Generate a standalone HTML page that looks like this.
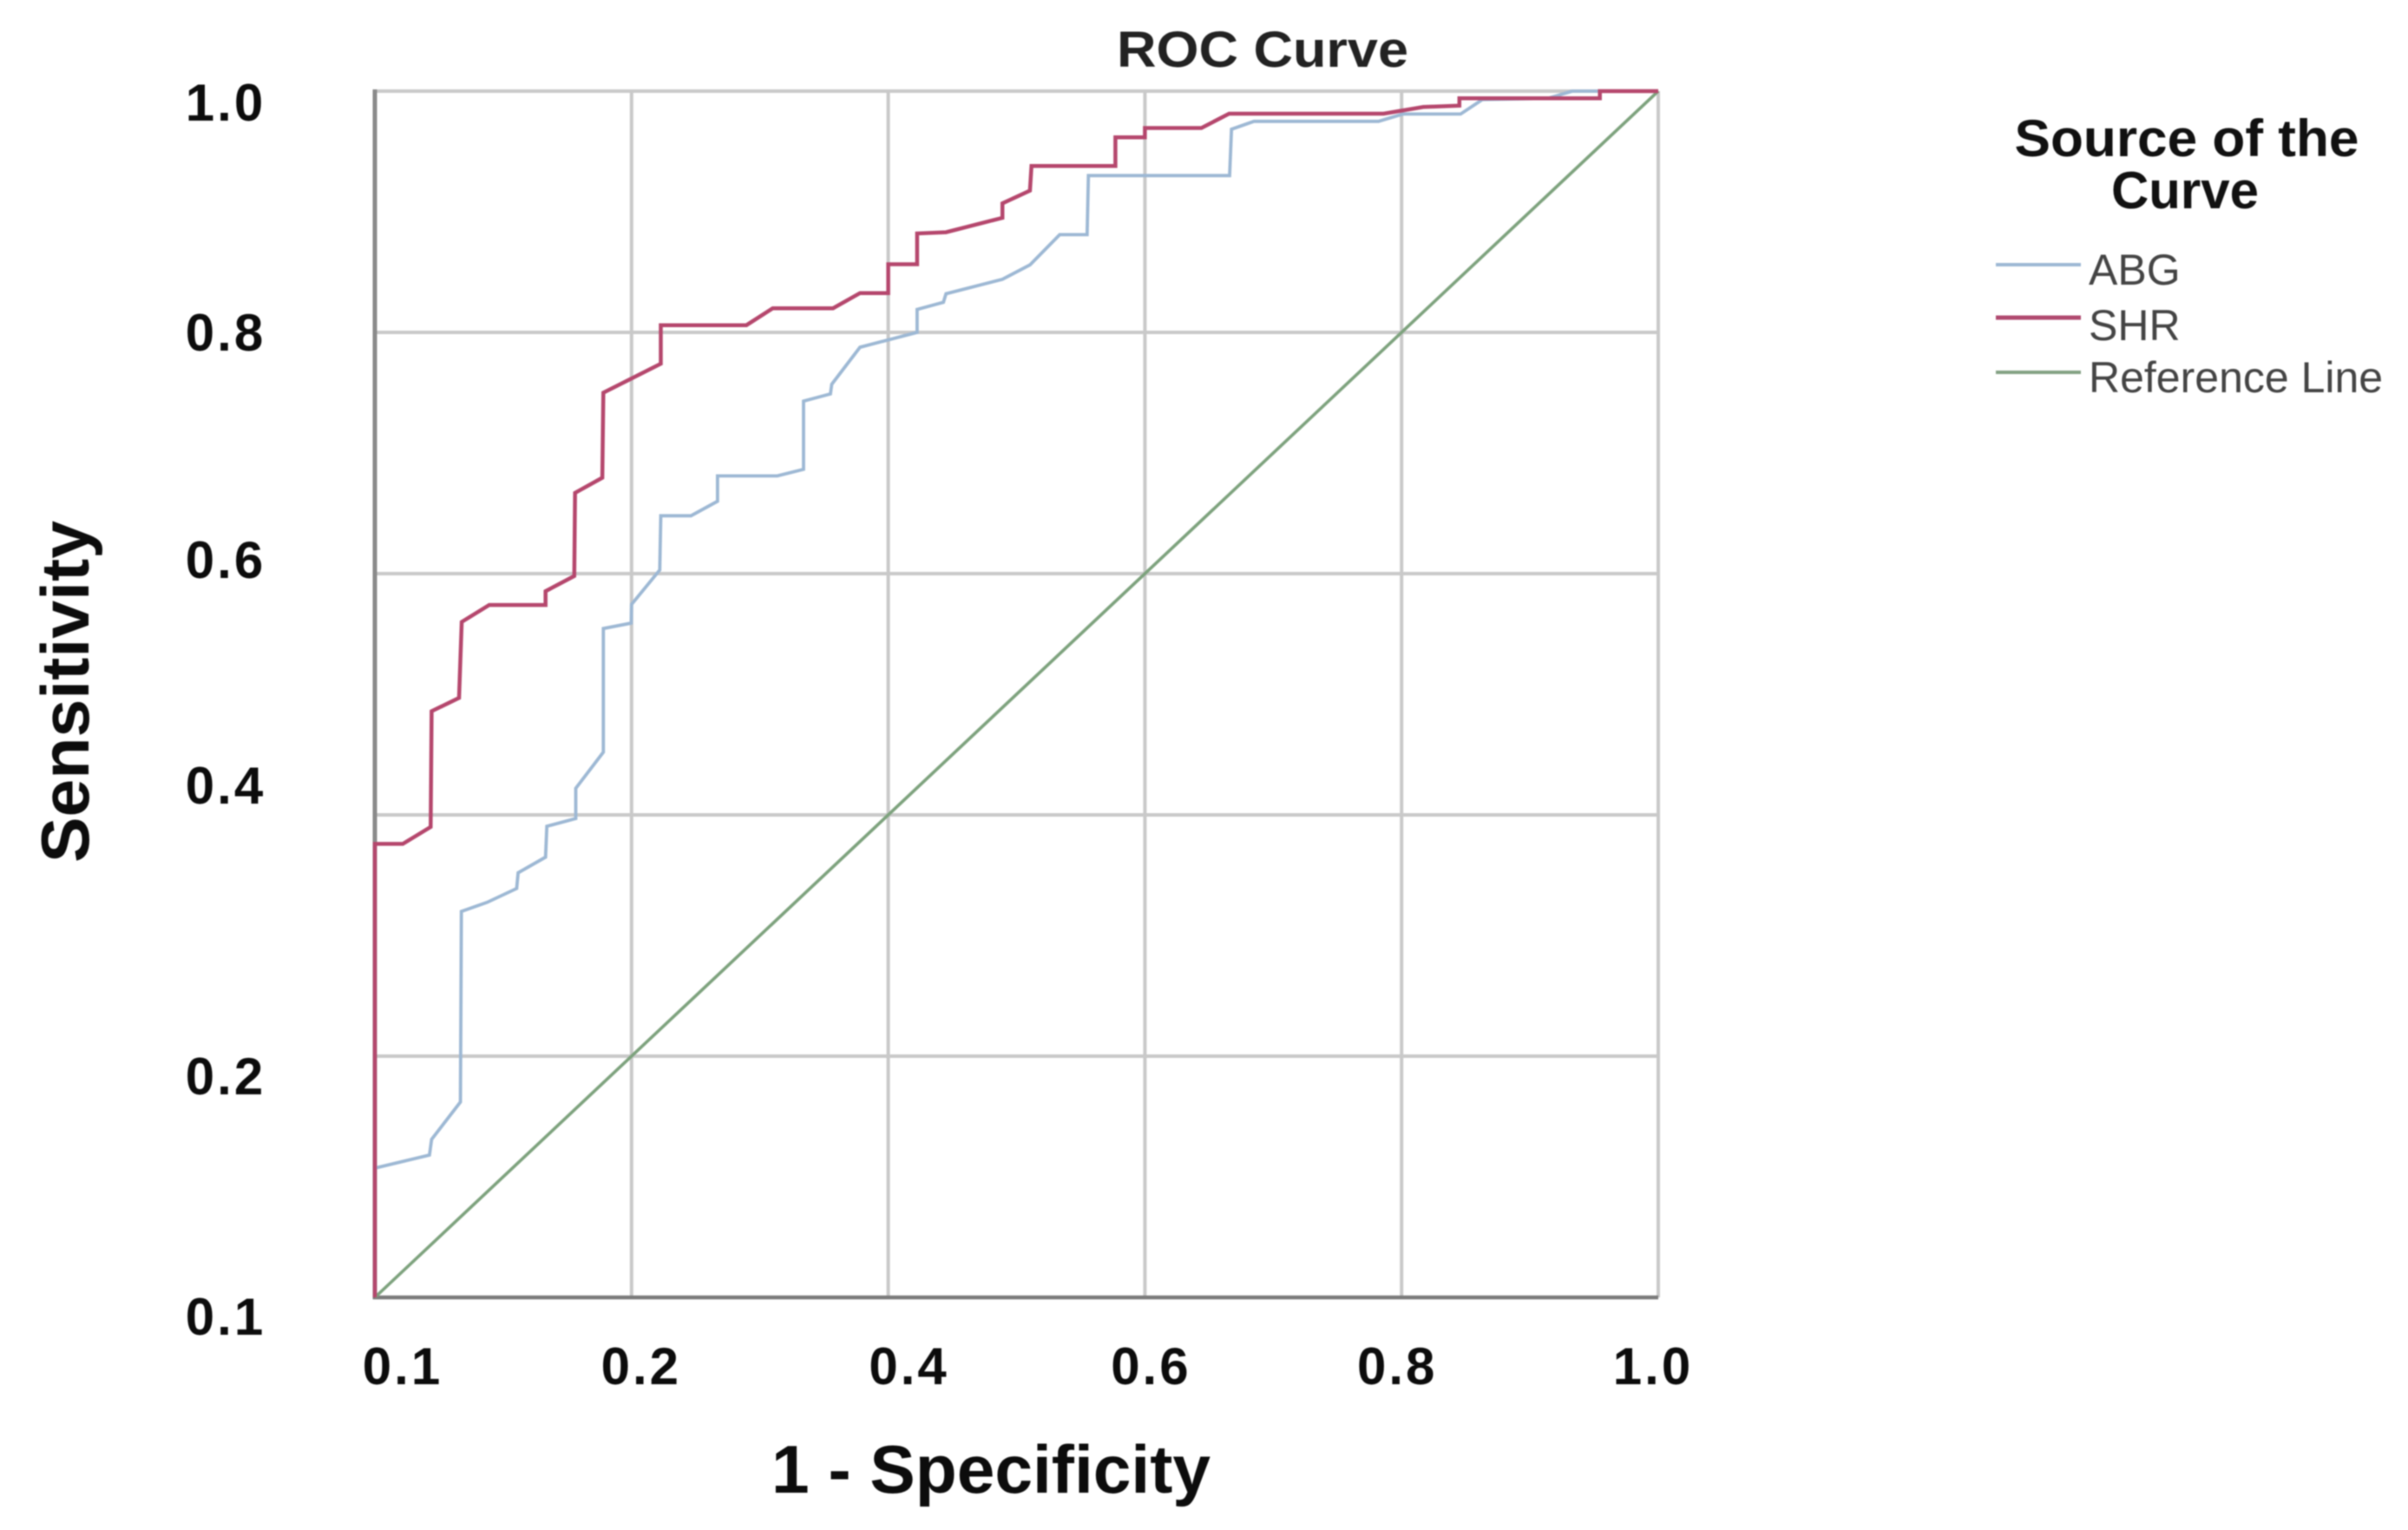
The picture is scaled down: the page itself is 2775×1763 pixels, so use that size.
<!DOCTYPE html>
<html lang="en">
<head>
<meta charset="utf-8">
<title>ROC Curve</title>
<style>
  html, body { margin: 0; padding: 0; background: #ffffff; }
  #chart { display: block; width: 2775px; height: 1763px; filter: blur(0.7px); }
  text { font-family: "Liberation Sans", sans-serif; }
  .tick { font-size: 60px; font-weight: 700; fill: #0c0c0c; letter-spacing: 3px; text-anchor: middle; }
  .axis-title { font-size: 78px; font-weight: 700; fill: #0c0c0c; }
  .legend-title { font-size: 60px; font-weight: 700; fill: #111111; text-anchor: middle; }
  .legend-label { font-size: 50px; fill: #444444; }
</style>
</head>
<body>
<svg id="chart" xmlns="http://www.w3.org/2000/svg" width="2775" height="1763" viewBox="0 0 2775 1763">
  <rect x="0" y="0" width="2775" height="1763" fill="#ffffff"></rect>
  <g id="grid"></g>
  <g id="axes"></g>
  <g id="series"></g>
  <g id="ticks"></g>

  <text x="1287" y="77" font-size="58" font-weight="700" fill="#222222" textLength="336" lengthAdjust="spacingAndGlyphs">ROC Curve</text>
  <text class="axis-title" x="889" y="1720" textLength="506" lengthAdjust="spacingAndGlyphs">1 - Specificity</text>
  <text class="axis-title" transform="translate(102 994) rotate(-90)" textLength="394" lengthAdjust="spacingAndGlyphs">Sensitivity</text>

  <g>
    <text class="legend-title" x="2520" y="180" textLength="397" lengthAdjust="spacingAndGlyphs">Source of the</text>
    <text class="legend-title" x="2518" y="240">Curve</text>
    <g>
      <line x1="2300" y1="305" x2="2398" y2="305" stroke="#9db8d4" stroke-width="4"></line>
      <text class="legend-label" x="2407" y="328">ABG</text>
    </g>
    <g>
      <line x1="2300" y1="366" x2="2398" y2="366" stroke="#b04a70" stroke-width="5"></line>
      <text class="legend-label" x="2407" y="392">SHR</text>
    </g>
    <g>
      <line x1="2300" y1="429" x2="2398" y2="429" stroke="#84a284" stroke-width="4"></line>
      <text class="legend-label" x="2407" y="452">Reference Line</text>
    </g>
  </g>
</svg>
<script>
const xTickValues = [0, 0.2, 0.4, 0.6, 0.8, 1];
const xTickLabels = ["0.1", "0.2", "0.4", "0.6", "0.8", "1.0"];
const yTickValues = [1, 0.8, 0.6, 0.4, 0.2, 0];
const yTickLabels = ["1.0", "0.8", "0.6", "0.4", "0.2", "0.1"];

const abgFpr = [0, 0, 0.0425, 0.0442, 0.0667, 0.0674, 0.0874, 0.1105, 0.1116, 0.133, 0.134, 0.1565, 0.1565, 0.178, 0.178, 0.1997, 0.2, 0.222, 0.2228, 0.2463, 0.267, 0.267, 0.3136, 0.334, 0.334, 0.355, 0.356, 0.378, 0.4225, 0.4225, 0.443, 0.445, 0.489, 0.5105, 0.5336, 0.555, 0.556, 0.666, 0.6675, 0.685, 0.782, 0.801, 0.846, 0.863, 0.914, 0.933, 1];
const abgTpr = [0, 0.1072, 0.118, 0.131, 0.162, 0.32, 0.3275, 0.339, 0.352, 0.365, 0.3906, 0.397, 0.422, 0.452, 0.5545, 0.559, 0.5745, 0.603, 0.648, 0.648, 0.66, 0.681, 0.681, 0.6865, 0.743, 0.749, 0.757, 0.7877, 0.8, 0.819, 0.825, 0.832, 0.844, 0.856, 0.881, 0.881, 0.93, 0.93, 0.9684, 0.975, 0.975, 0.981, 0.981, 0.993, 0.994, 1, 1];

const shrFpr = [0, 0, 0.0218, 0.0435, 0.0442, 0.0656, 0.0677, 0.0891, 0.133, 0.133, 0.1554, 0.156, 0.1772, 0.178, 0.2228, 0.2228, 0.2895, 0.31, 0.357, 0.378, 0.4, 0.4, 0.4225, 0.4225, 0.445, 0.489, 0.489, 0.5104, 0.5116, 0.577, 0.577, 0.6, 0.6, 0.644, 0.6656, 0.786, 0.817, 0.845, 0.845, 0.9545, 0.9545, 1];
const shrTpr = [0, 0.376, 0.376, 0.39, 0.486, 0.497, 0.56, 0.574, 0.574, 0.5855, 0.598, 0.667, 0.6795, 0.75, 0.774, 0.806, 0.806, 0.82, 0.82, 0.8326, 0.8326, 0.8565, 0.8565, 0.882, 0.883, 0.895, 0.907, 0.9175, 0.938, 0.938, 0.9617, 0.9617, 0.9694, 0.9694, 0.9813, 0.9813, 0.9868, 0.988, 0.994, 0.994, 1, 1];

const refFpr = [0, 1];
const refTpr = [0, 1];

const SVG_NS = "http://www.w3.org/2000/svg";
const plot = { left: 432, right: 1911, top: 105, bottom: 1495 };
const xScale = function (v) { return plot.left + v * (plot.right - plot.left); };
const yScale = function (v) { return plot.bottom - v * (plot.bottom - plot.top); };

const gridGroup = document.getElementById("grid");
const axesGroup = document.getElementById("axes");
const seriesGroup = document.getElementById("series");
const ticksGroup = document.getElementById("ticks");

function makeLine(x1, y1, x2, y2, stroke, width) {
  const el = document.createElementNS(SVG_NS, "line");
  el.setAttribute("x1", x1);
  el.setAttribute("y1", y1);
  el.setAttribute("x2", x2);
  el.setAttribute("y2", y2);
  el.setAttribute("stroke", stroke);
  el.setAttribute("stroke-width", width);
  return el;
}

xTickValues.forEach(function (v) {
  const el = makeLine(xScale(v), plot.top, xScale(v), plot.bottom, "#c9c9c9", 4);
  
  
  gridGroup.appendChild(el);
});

yTickValues.forEach(function (v) {
  const el = makeLine(plot.left, yScale(v), plot.right, yScale(v), "#c9c9c9", 4);
  
  
  gridGroup.appendChild(el);
});

const yAxisLine = makeLine(plot.left, plot.top - 2, plot.left, plot.bottom + 2, "#8a8a8a", 5);


axesGroup.appendChild(yAxisLine);

const xAxisLine = makeLine(plot.left - 2, plot.bottom, plot.right, plot.bottom, "#7c7c7c", 4.5);


axesGroup.appendChild(xAxisLine);

function makeCurve(xs, ys, stroke, width) {
  const el = document.createElementNS(SVG_NS, "polyline");
  const pts = xs.map(function (x, i) { return xScale(x).toFixed(1) + "," + yScale(ys[i]).toFixed(1); });
  el.setAttribute("points", pts.join(" "));
  el.setAttribute("fill", "none");
  el.setAttribute("stroke", stroke);
  el.setAttribute("stroke-width", width);
  el.setAttribute("stroke-linejoin", "miter");
  return el;
}

const refCurve = makeCurve(refFpr, refTpr, "#7da27d", 3.6);


seriesGroup.appendChild(refCurve);

const abgCurve = makeCurve(abgFpr, abgTpr, "#9db8d4", 3.8);


seriesGroup.appendChild(abgCurve);

const shrCurve = makeCurve(shrFpr, shrTpr, "#b5476d", 4.5);


seriesGroup.appendChild(shrCurve);

/* The reference's labels sit off their gridlines; these are layout nudges only. */
const xLabelShift = [32, 11, 24, 7, -5, -6];
const yLabelShift = [34, 21, 5, -13, 44, 43];

xTickLabels.forEach(function (label, i) {
  const el = document.createElementNS(SVG_NS, "text");
  el.setAttribute("class", "tick");
  el.setAttribute("x", xScale(xTickValues[i]) + xLabelShift[i]);
  el.setAttribute("y", 1595);
  el.textContent = label;
  
  
  ticksGroup.appendChild(el);
});

yTickLabels.forEach(function (label, i) {
  const el = document.createElementNS(SVG_NS, "text");
  el.setAttribute("class", "tick");
  el.setAttribute("x", 260);
  el.setAttribute("y", yScale(yTickValues[i]) + yLabelShift[i]);
  el.textContent = label;
  
  
  ticksGroup.appendChild(el);
});
</script>
</body>
</html>
